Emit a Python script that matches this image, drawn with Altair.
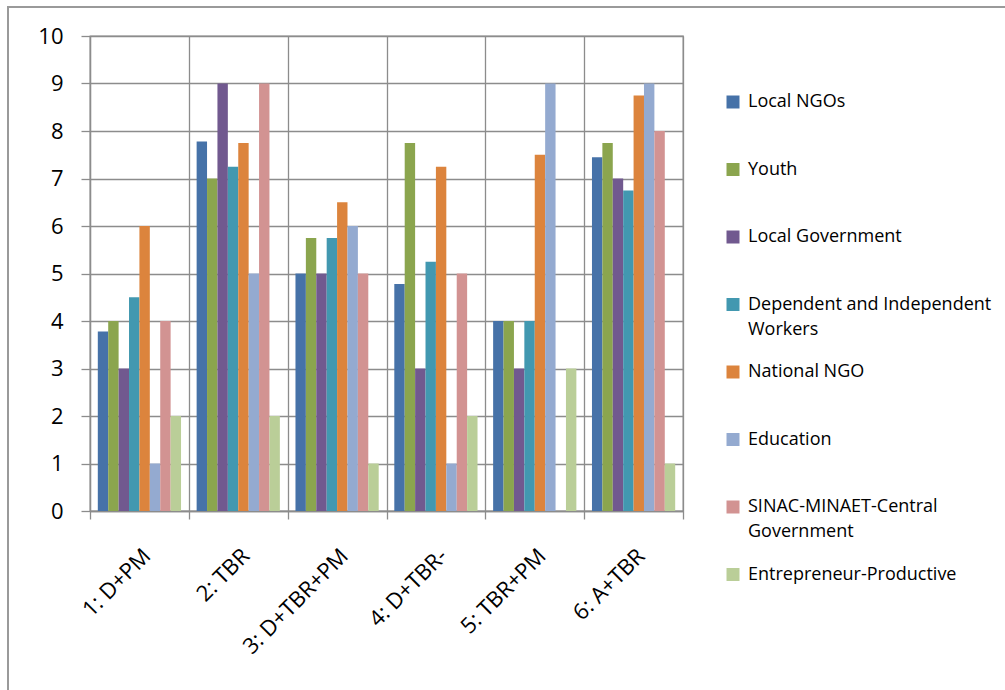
import altair as alt
import pandas as pd

categories = ["1: D+PM", "2: TBR", "3: D+TBR+PM", "4: D+TBR-", "5: TBR+PM", "6: A+TBR"]
series = [
    "Local NGOs",
    "Youth",
    "Local Government",
    "Dependent and Independent Workers",
    "National NGO",
    "Education",
    "SINAC-MINAET-Central Government",
    "Entrepreneur-Productive",
]
colors = ["#4672A8", "#8BA54E", "#71598F", "#4298B0", "#DC843D", "#94AAD0", "#D29392", "#BACE98"]

local_ngos = [3.78, 7.78, 5, 4.78, 4, 7.45]
youth = [4, 7, 5.75, 7.75, 4, 7.75]
local_gov = [3, 9, 5, 3, 3, 7]
dependent = [4.5, 7.25, 5.75, 5.25, 4, 6.75]
national_ngo = [6, 7.75, 6.5, 7.25, 7.5, 8.75]
education = [1, 5, 6, 1, 9, 9]
sinac = [4, 9, 5, 5, 0, 8]
entrepreneur = [2, 2, 1, 2, 3, 1]

all_values = [local_ngos, youth, local_gov, dependent, national_ngo, education, sinac, entrepreneur]
rows = []
for s, vals in zip(series, all_values):
    for c, v in zip(categories, vals):
        rows.append({"category": c, "series": s, "value": v})
df = pd.DataFrame(rows)

GRAY = "#8c8c8c"
FONT = "Open Sans"

label_expr = (
    "datum.label == 'Dependent and Independent Workers' ? ['Dependent and Independent', 'Workers'] : "
    "datum.label == 'SINAC-MINAET-Central Government' ? ['SINAC-MINAET-Central', 'Government'] : "
    "datum.label"
)

frame = alt.Chart(pd.DataFrame({"k": [0]})).mark_rect(
    fillOpacity=0, stroke="#9a9a9a", strokeWidth=2
).encode(
    x=alt.value(-82), x2=alt.value(1100), y=alt.value(-29), y2=alt.value(800)
)

bars = alt.Chart(df).mark_bar().encode(
    x=alt.X(
        "category:N",
        sort=categories,
        scale=alt.Scale(paddingInner=0, paddingOuter=0),
        axis=alt.Axis(
            title=None,
            tickBand="extent",
            grid=True,
            gridColor=GRAY,
            gridWidth=1.3,
            domainColor=GRAY,
            domainWidth=1.3,
            tickColor=GRAY,
            tickWidth=1.3,
            tickSize=8,
            labelAngle=-45,
            labelFontSize=22,
            labelFont=FONT,
            labelColor="black",
            labelPadding=26,
        ),
    ),
    xOffset=alt.XOffset("series:N", sort=series, scale=alt.Scale(paddingOuter=0.75, paddingInner=0)),
    y=alt.Y(
        "value:Q",
        scale=alt.Scale(domain=[0, 10], nice=False),
        axis=alt.Axis(
            title=None,
            values=list(range(0, 11)),
            grid=True,
            gridColor=GRAY,
            gridWidth=1.3,
            domainColor=GRAY,
            domainWidth=1.3,
            tickColor=GRAY,
            tickWidth=1.3,
            tickSize=9,
            labelFontSize=22,
            labelFont=FONT,
            labelColor="black",
            labelPadding=18,
        ),
    ),
    color=alt.Color(
        "series:N",
        sort=series,
        scale=alt.Scale(domain=series, range=colors),
        legend=alt.Legend(
            title=None,
            orient="none",
            legendX=634,
            legendY=57,
            symbolType="square",
            symbolSize=169,
            symbolStrokeWidth=0,
            labelFontSize=18,
            labelFont=FONT,
            labelColor="black",
            labelOffset=6,
            labelLimit=400,
            gridAlign="all",
            rowPadding=24.5,
            labelExpr=label_expr,
            padding=0,
        ),
    ),
)

chart = alt.layer(frame, bars).properties(
    width=593,
    height=475,
    autosize=alt.AutoSizeParams(type="none"),
    padding={"left": 90, "top": 36, "right": 322, "bottom": 179},
    background="white",
).configure_view(
    stroke=GRAY, strokeWidth=1.3
)
chart.config.style = {"guide-label": {"lineHeight": 25}}

chart.save("out.html", embed_options={"renderer": "svg", "actions": False})
